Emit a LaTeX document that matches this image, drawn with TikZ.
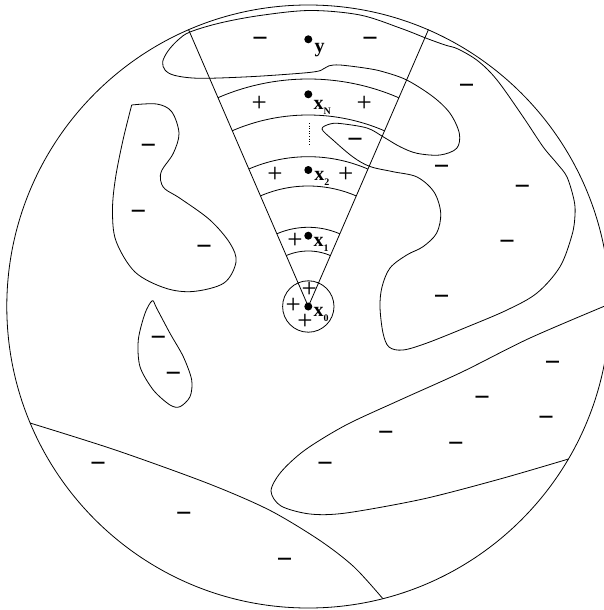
\documentclass[tikz,border=0pt]{standalone}
\usepackage{fontspec}
\setmainfont{Liberation Serif}
\newcommand\mysub[1]{\raisebox{-5pt}{\fontsize{10}{10}\selectfont #1}}
\begin{document}
\begin{tikzpicture}[x=1pt,y=-1pt,line width=0.8pt,line join=round,
  dot/.style={circle,fill=black,minimum size=8pt,inner sep=0pt},
  lbl/.style={font=\fontsize{20}{20}\selectfont\bfseries,anchor=base west,inner sep=0pt},
  psgn/.style={font=\fontsize{27}{27}\selectfont,inner sep=0pt},
  msgn/.style={font=\fontsize{28}{28}\selectfont\bfseries,inner sep=0pt},
  region/.style={smooth cycle,tension=0.55}]
\useasboundingbox (0,0) rectangle (604,610);
\clip (0,0) rectangle (604,610);
% points
\node[dot] (x0) at (308.3,306.5) {};
\node[dot] (x1) at (308.3,235.7) {};
\node[dot] (x2) at (308.3,170) {};
\node[dot] (xN) at (308.3,94.3) {};
\node[dot] (y) at (308.3,39.3) {};
% big disc and small disc
\draw (x0.center) circle[radius=301.5pt];
\draw (x0.center) circle[radius=25.7pt];
% sector
\coordinate (tl) at (188.5,29.5);
\coordinate (tr) at (428.5,29.5);
\draw (x0.center) -- (tl);
\draw (x0.center) -- (tr);
\foreach \R in {55.5,79.2,120.5,149.8,191.5,227.5}
  \draw plot[domain=-113.4:-66.6,samples=40,smooth] ({308.3+\R*cos(\x)},{306.5+\R*sin(\x)});
\draw[dotted,line width=0.6pt] (308.8,123) -- (308.8,146);
% labels
\node[lbl] (ly) at (314.3,52.5) {y};
\node[lbl] (lxN) at (313.3,109.3) {x\mysub{N}};
\node[lbl] (lx2) at (314,180) {x\mysub{2}};
\node[lbl] (lx1) at (313.3,246) {x\mysub{1}};
\node[lbl] (lx0) at (313.3,316) {x\mysub{0}};
% big upper-right region
\draw plot[region] coordinates {
 (162.7,61.7) (168,51) (178,40) (190,32) (220,23) (260,15.5) (310,10.5) (360,15)
 (400,28) (427,38.5) (445,45) (458,49) (478,61) (497,80) (523,116.7) (543,146.7)
 (557,163.5) (567,177) (574,200) (575,215) (572,235) (560,266.7) (537,293) (507,310)
 (467,327) (427,343) (403,350) (389,347) (383,333) (380,307) (382,287) (390,268)
 (406.7,255) (423,246.7) (436.7,233) (440.7,213) (434,192) (417,177) (393,171.7)
 (370,166.5) (353,157) (333,140) (322,129) (330,124) (340,123.5) (367,128)
 (383,136.7) (400,146.7) (417,153.3) (440,155) (456.7,148.3) (459.3,133.3) (450,113.3)
 (433,96.7) (406.7,80) (383,71.7) (366.7,68.3) (340,65) (329,65.8) (324,68.5)
 (318,71.2) (300,73.3) (250,76.7) (200,78.3) (175,75.5) (165,70)};
% left B-shaped region
\draw plot[smooth,tension=0.55] coordinates {
 (131.7,105) (156.7,104) (171.7,111.7) (179,133.3) (173.3,153.3) (162,170) (160.5,180)
 (165,189) (180,198.3) (210,220) (230,243.3) (236,262) (224,283) (193,291.5) (165,288)
 (135,272) (116,241) (112.5,210) (115.5,178) (123,140) (131.7,105)};
% drop-shaped region
\draw plot[smooth cycle,tension=0.5] coordinates {
 (152.3,300.7) (156.7,308.3) (170,333.3) (183.3,356.7) (191.7,380) (190,396.7)
 (180,406.7) (170,405) (153.3,390) (140,366.7) (138.3,340) (145,313.3)};
% bottom-left boundary
\draw plot[smooth,tension=0.5] coordinates {
 (30,423) (115.4,450) (207.7,483.3) (269.2,510) (319.2,540) (353.8,566.7) (382.7,598.5)};
% bottom-right region
\draw plot[smooth,tension=0.5] coordinates {
 (612,303) (530,338) (462,372) (400,400) (346,425) (305,450) (281,472) (271,491)
 (281,506) (310,514) (346,513) (423,499) (500,479) (568.5,459)};
% plus signs
\foreach \p [count=\i] in {(259.3,104.3),(364.3,104.3),(275,175),(345.7,175),
  (295,240.7),(309.3,290),(293.3,306),(305,321.7)}
  \node[psgn] (p\i) at \p {+};
% minus signs
\foreach \p [count=\i] in {(260,42.7),(370,42.7),(355,143.3),
  (466.5,89),(441.5,170),(522.3,190),(507,245),(441.5,300.5),
  (148.3,149),(138.3,215),(204,250.7),(158.3,341),(173.3,377.3),
  (552.7,366.7),(482,401.7),(546,421.7),(385.8,436.7),(455.8,447.7),(325,467.7),
  (98,467.7),(183.8,517.3),(284.6,563.3)}
  \node[msgn] (m\i) at \p {−};
\end{tikzpicture}
\end{document}
